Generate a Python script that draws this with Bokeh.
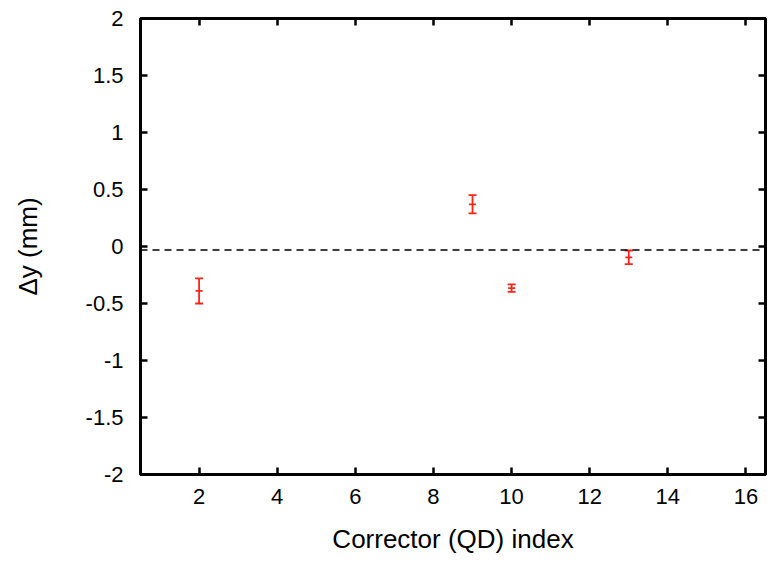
from bokeh.plotting import figure
from bokeh.models import Whisker, ColumnDataSource, Span, LinearAxis, FixedTicker, Range1d
from bokeh.embed import file_html
from bokeh.resources import INLINE

# Data
corrector_index = [2, 9, 10, 13]
delta_y = [-0.39, 0.37, -0.365, -0.095]
delta_y_err = [0.11, 0.08, 0.033, 0.06]
mean_line = -0.03

x_ticks = [2, 4, 6, 8, 10, 12, 14, 16]
y_ticks = [-2, -1.5, -1, -0.5, 0, 0.5, 1, 1.5, 2]
y_tick_labels = {v: f"{v:g}" for v in y_ticks}
x_tick_labels = {v: f"{v:g}" for v in x_ticks}

FONT = "Liberation Sans"
RED = "#ff2418"

p = figure(frame_width=625, frame_height=456,
           x_range=Range1d(0.5, 16.5), y_range=Range1d(-2, 2),
           output_backend="svg", toolbar_location=None,
           min_border_left=140, min_border_top=18, min_border_right=4, min_border_bottom=70,
           background_fill_color="white", border_fill_color="white")

p.xgrid.visible = False
p.ygrid.visible = False
p.outline_line_color = "black"
p.outline_line_width = 3
p.outline_line_alpha = 1

def style_axis(ax, ticks, labels, show_labels=True):
    ax.ticker = FixedTicker(ticks=ticks)
    ax.axis_line_color = None
    ax.major_tick_in = 7
    ax.major_tick_out = 0
    ax.major_tick_line_width = 2.5
    ax.major_tick_line_color = "black"
    ax.minor_tick_line_color = None
    if show_labels:
        ax.major_label_overrides = labels
        ax.major_label_text_font = FONT
        ax.major_label_text_font_size = "22px"
        ax.major_label_text_color = "black"
    else:
        ax.major_label_overrides = {v: "" for v in ticks}
        ax.major_label_text_font_size = "1px"
        ax.major_label_standoff = 0

style_axis(p.xaxis[0], x_ticks, x_tick_labels)
style_axis(p.yaxis[0], y_ticks, y_tick_labels)
p.xaxis[0].major_label_standoff = 14
p.yaxis[0].major_label_standoff = 17

p.xaxis[0].axis_label = "Corrector (QD) index"
p.yaxis[0].axis_label = "\u0394y (mm)"
for ax in (p.xaxis[0], p.yaxis[0]):
    ax.axis_label_text_font = FONT
    ax.axis_label_text_font_size = "26px"
    ax.axis_label_text_font_style = "normal"
    ax.axis_label_text_color = "black"
p.xaxis[0].axis_label_standoff = 17
p.yaxis[0].axis_label_standoff = 40

top_ax = LinearAxis()
style_axis(top_ax, x_ticks, x_tick_labels, show_labels=False)
p.add_layout(top_ax, "above")
right_ax = LinearAxis()
style_axis(right_ax, y_ticks, y_tick_labels, show_labels=False)
p.add_layout(right_ax, "right")

p.add_layout(Span(location=mean_line, dimension="width", line_color="black",
                  line_dash="7 5", line_width=1.5))

upper = [v + e for v, e in zip(delta_y, delta_y_err)]
lower = [v - e for v, e in zip(delta_y, delta_y_err)]
src = ColumnDataSource(dict(x=corrector_index, y=delta_y, upper=upper, lower=lower))

w = Whisker(source=src, base="x", upper="upper", lower="lower",
            line_color=RED, line_width=1.8)
w.upper_head.size = 8
w.lower_head.size = 8
w.upper_head.line_color = RED
w.lower_head.line_color = RED
w.upper_head.line_width = 1.8
w.lower_head.line_width = 1.8
p.add_layout(w)
p.scatter("x", "y", source=src, marker="dash", size=7, line_color=RED, line_width=1.8)

open("out.html", "w").write(file_html(p, INLINE))
